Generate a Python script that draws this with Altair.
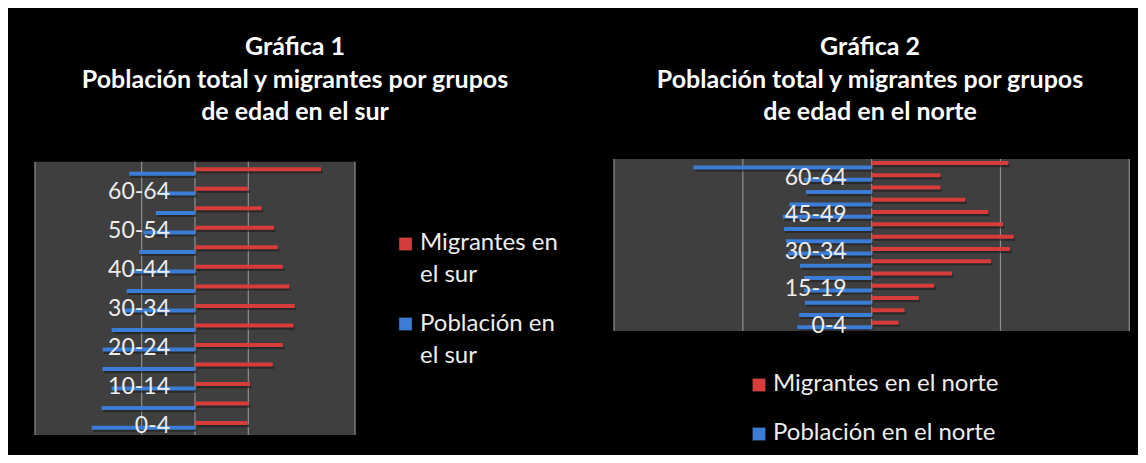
import altair as alt
import pandas as pd

# ---------------- data ----------------
edades = ["0-4", "5-9", "10-14", "15-19", "20-24", "25-29", "30-34",
          "35-39", "40-44", "45-49", "50-54", "55-59", "60-64", "65+"]

sur_migrantes = [3.95, 4.03, 4.13, 5.83, 6.58, 7.38, 7.48, 7.08, 6.58, 6.20, 5.93, 5.00, 4.00, 9.45]
sur_poblacion = [7.75, 7.00, 6.25, 6.93, 6.93, 6.25, 5.38, 5.13, 4.85, 4.18, 3.88, 2.93, 2.50, 4.93]

norte_migrantes = [1.67, 2.04, 2.93, 3.88, 4.99, 7.42, 8.58, 8.82, 8.16, 7.24, 5.81, 4.27, 4.27, 8.49]
norte_poblacion = [4.62, 4.50, 4.14, 4.20, 4.20, 4.45, 5.20, 5.32, 5.44, 5.52, 5.11, 4.08, 4.20, 11.07]

sur_etiquetas = ["0-4", "10-14", "20-24", "30-34", "40-44", "50-54", "60-64"]
norte_etiquetas = ["0-4", "15-19", "30-34", "45-49", "60-64"]

sur_grid = [-12, -4, 0, 4, 12]
norte_grid = [-16, -8, 0, 8, 16]

titulo_sur = "Gráfica 1\nPoblación total y migrantes por grupos\nde edad en el sur"
titulo_norte = "Gráfica 2\nPoblación total y migrantes por grupos\nde edad en el norte"

leyenda_sur = ["Migrantes en\nel sur", "Población en\nel sur"]
leyenda_norte = ["Migrantes en el norte", "Población en el norte"]

ROJO = "#d63d3a"
AZUL = "#3b7dd6"
FONT = "Lato"
TXT = "#ececec"


def panel(migr, pob, etiquetas, grid, dom, xr, yr, W, H, titulo, tx, leyenda, leg):
    df = pd.DataFrame({"edad": edades, "migr": migr, "pob": [-v for v in pob]})
    xs = alt.Scale(domain=[-dom, dom], range=list(xr))
    ys = alt.Scale(domain=edades[::-1], range=list(yr), paddingInner=0, paddingOuter=0)

    fondo = alt.Chart(pd.DataFrame({"a": [0]})).mark_rect(color="#3f3f3f").encode(
        x=alt.X("lo:Q", scale=xs, axis=None), x2="hi:Q",
        y=alt.value(yr[0]), y2=alt.value(yr[1]),
    ).transform_calculate(lo=str(-dom), hi=str(dom))

    rejilla = alt.Chart(pd.DataFrame({"g": grid})).mark_rule(color="#8f8f8f", strokeWidth=1.2).encode(
        x=alt.X("g:Q", scale=xs, axis=None),
        y=alt.value(yr[0]), y2=alt.value(yr[1]),
    )

    base = alt.Chart(df)
    yenc = alt.Y("edad:N", scale=ys, axis=None)

    sombra_r = base.mark_bar(color="#1c1c1c", opacity=0.6, size=3, yOffset=0.5, xOffset=1.5).encode(
        x=alt.X("migr:Q", scale=xs, axis=None), y=yenc)
    sombra_a = base.mark_bar(color="#1c1c1c", opacity=0.6, size=3, yOffset=5, xOffset=1.5).encode(
        x=alt.X("pob:Q", scale=xs, axis=None), y=yenc)
    rojo = base.mark_bar(color=ROJO, size=4, yOffset=-2.2).encode(
        x=alt.X("migr:Q", scale=xs, axis=None), y=yenc)
    azul = base.mark_bar(color=AZUL, size=4, yOffset=2.4).encode(
        x=alt.X("pob:Q", scale=xs, axis=None), y=yenc)

    etq = alt.Chart(pd.DataFrame({"edad": etiquetas, "z": [0] * len(etiquetas)})).mark_text(
        font=FONT, fontSize=23, color=TXT, align="right", baseline="middle", dx=-25, dy=1
    ).encode(x=alt.X("z:Q", scale=xs, axis=None), y=yenc, text="edad:N")

    tit = alt.Chart(pd.DataFrame({"t": [titulo]})).mark_text(
        font=FONT, fontSize=25, fontWeight="bold", color="white", align="center",
        baseline="alphabetic", lineBreak="\n", lineHeight=32.5
    ).encode(x=alt.value(tx), y=alt.value(47), text="t:N")

    capas = [fondo, rejilla, sombra_r, sombra_a, rojo, azul, etq, tit]
    for txt, col, (sx, sy, lx, ly) in zip(leyenda, [ROJO, AZUL], leg):
        capas.append(alt.Chart(pd.DataFrame({"a": [0]})).mark_square(
            color=col, size=170, opacity=1, stroke="#222222", strokeWidth=0.5
        ).encode(x=alt.value(sx), y=alt.value(sy)))
        capas.append(alt.Chart(pd.DataFrame({"t": [txt]})).mark_text(
            font=FONT, fontSize=24, color=TXT, align="left", baseline="alphabetic",
            lineBreak="\n", lineHeight=31.7
        ).encode(x=alt.value(lx), y=alt.value(ly), text="t:N"))

    return alt.layer(*capas).properties(width=W, height=H)


izq = panel(sur_migrantes, sur_poblacion, sur_etiquetas, sur_grid, 12,
            (27, 347), (153.7, 427), 600, 447, titulo_sur, 287, leyenda_sur,
            [(397.5, 236, 412, 242), (397.5, 316, 412, 323)])

der = panel(norte_migrantes, norte_poblacion, norte_etiquetas, norte_grid, 16,
            (6, 521.3), (151, 323), 530, 447, titulo_norte, 262, leyenda_norte,
            [(151, 377, 165, 382.7), (151, 426, 165, 432)])

chart = alt.hconcat(izq, der, spacing=0).properties(
    padding=0, background="black"
).configure_view(strokeWidth=0, fill=None)

chart.save("out.html", embed_options={"renderer": "svg", "actions": False})
